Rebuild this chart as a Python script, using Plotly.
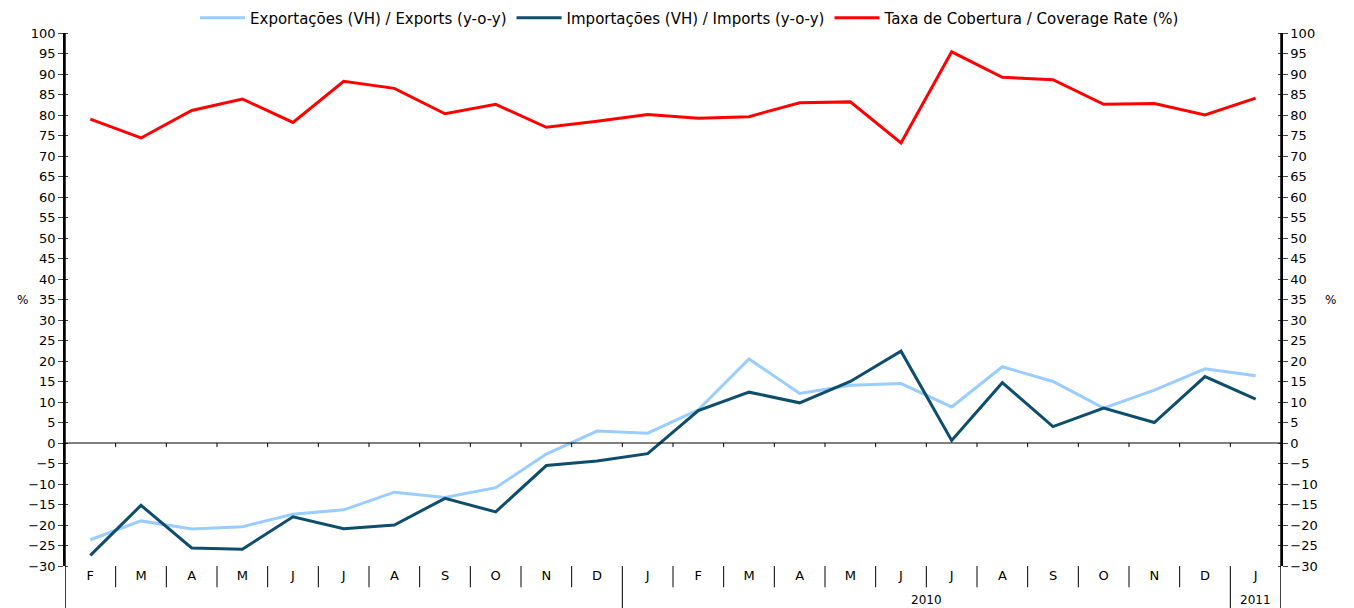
import plotly.graph_objects as go

months = ["F", "M", "A", "M", "J", "J", "A", "S", "O", "N", "D",
          "J", "F", "M", "A", "M", "J", "J", "A", "S", "O", "N", "D",
          "J"]
year_labels = ["2010", "2011"]
year_first_idx = [11, 23]
year_last_idx = [22, 23]

exports = [-23.6, -19.0, -21.0, -20.4, -17.4, -16.3, -12.0, -13.3, -10.9, -2.7, 2.9,
           2.4, 8.1, 20.5, 12.1, 14.1, 14.5, 8.8, 18.6, 15.0, 8.5, 12.9, 18.1,
           16.4]
imports = [-27.4, -15.2, -25.6, -25.9, -18.0, -20.9, -20.0, -13.5, -16.8, -5.5, -4.4,
           -2.6, 7.9, 12.4, 9.8, 15.0, 22.4, 0.6, 14.7, 4.0, 8.5, 5.0, 16.2,
           10.7]
coverage = [79.0, 74.4, 81.1, 83.9, 78.2, 88.2, 86.5, 80.3, 82.6, 77.0, 78.5,
            80.1, 79.2, 79.6, 83.0, 83.2, 73.2, 95.4, 89.2, 88.6, 82.6, 82.8, 80.0,
            84.1]

y_min, y_max, y_step = -30, 100, 5

x = list(range(len(months)))
n = len(months)

FONT = "DejaVu Sans, Arial, sans-serif"

fig = go.Figure()
fig.add_trace(go.Scatter(x=x, y=exports, mode="lines",
                         name="Exportações (VH) / Exports (y-o-y)",
                         line=dict(color="#99CCFF", width=3)))
fig.add_trace(go.Scatter(x=x, y=imports, mode="lines",
                         name="Importações (VH) / Imports (y-o-y)",
                         line=dict(color="#0E4D6B", width=3)))
fig.add_trace(go.Scatter(x=x, y=coverage, mode="lines",
                         name="Taxa de Cobertura / Coverage Rate (%)",
                         line=dict(color="#FF0000", width=3), yaxis="y2"))

shapes = []
# zero line (category axis line)
shapes.append(dict(type="line", xref="x", yref="y", x0=-0.5, x1=n - 0.5, y0=0, y1=0,
                   line=dict(color="black", width=1)))
year_bounds = [i - 0.5 for i in year_first_idx]
for i in range(n - 1):
    b = i + 0.5
    # small tick on zero line
    shapes.append(dict(type="line", xref="x", yref="y", x0=b, x1=b, y0=0, y1=-1,
                       line=dict(color="black", width=1)))
    # separator below the plot
    if b in year_bounds:
        shapes.append(dict(type="line", xref="x", yref="paper", x0=b, x1=b, y0=0, y1=-0.079,
                           line=dict(color="black", width=1)))
    else:
        shapes.append(dict(type="line", xref="x", yref="paper", x0=b, x1=b, y0=0, y1=-0.04,
                           line=dict(color="black", width=1)))
# axis lines extending to bottom
for xb in (-0.5, n - 0.5):
    shapes.append(dict(type="line", xref="x", yref="paper", x0=xb, x1=xb, y0=1, y1=-0.079,
                       line=dict(color="black", width=1.5)))

annotations = []
for lab, a, b in zip(year_labels, year_first_idx, year_last_idx):
    annotations.append(dict(x=(a + b) / 2, y=-0.064, xref="x", yref="paper", text=lab,
                            showarrow=False, font=dict(size=12, color="black", family=FONT),
                            xanchor="center", yanchor="middle"))
annotations.append(dict(x=-0.041, y=0.5, xref="paper", yref="paper", text="%", showarrow=False,
                        font=dict(size=12, color="black", family=FONT)))
annotations.append(dict(x=1.047, y=0.5, xref="paper", yref="paper", text="%", showarrow=False,
                        font=dict(size=12, color="black", family=FONT)))

yax = dict(range=[y_min, y_max], dtick=y_step, tick0=0, showgrid=False, zeroline=False,
           showline=True, linecolor="black", linewidth=1.5, ticks="outside", ticklen=5,
           tickcolor="#444444", tickfont=dict(size=13, color="black", family=FONT),
           minor=dict(dtick=y_step, tick0=0, ticks="inside", ticklen=3, tickcolor="#444444",
                      showgrid=False))

fig.update_layout(
    width=1354, height=608,
    margin=dict(l=65, r=73, t=33, b=42, autoexpand=False),
    paper_bgcolor="white", plot_bgcolor="white",
    font=dict(family=FONT, size=13, color="black"),
    showlegend=True,
    legend=dict(orientation="h", x=0.514, xanchor="center", y=1.028, yanchor="middle",
                font=dict(size=15, family=FONT, color="black"), itemwidth=45,
                bgcolor="rgba(0,0,0,0)"),
    xaxis=dict(range=[-0.5, n - 0.5], tickmode="array", tickvals=x, ticktext=months,
               showgrid=False, zeroline=False, showline=False, ticks="",
               tickfont=dict(size=13, color="black", family=FONT)),
    yaxis=yax,
    yaxis2=dict(yax, overlaying="y", side="right"),
    shapes=shapes,
    annotations=annotations,
)

fig.write_html("out.html", config={"displayModeBar": False},
               post_script="document.body.style.margin='0';document.body.style.overflow='hidden';")
